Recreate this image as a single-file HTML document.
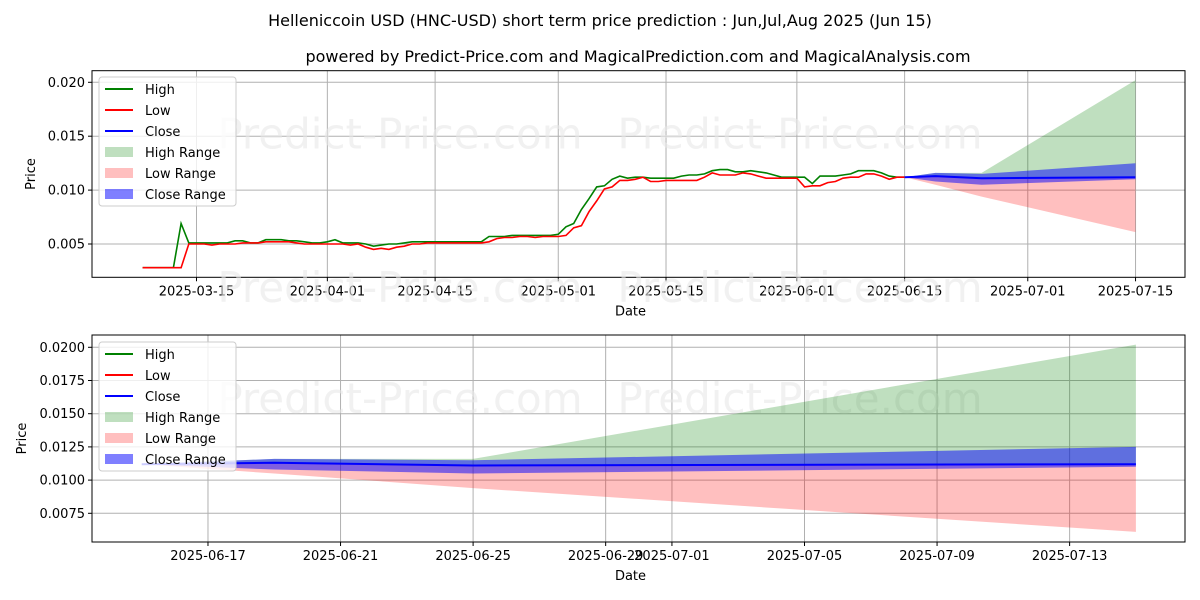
<!DOCTYPE html>
<html><head><meta charset="utf-8">
<style>
html,body{margin:0;padding:0;background:#fff;}
svg{display:block;font-family:"DejaVu Sans","Liberation Sans",sans-serif;}
</style></head>
<body>
<svg id="chart" width="1200" height="600" viewBox="0 0 1200 600" xmlns="http://www.w3.org/2000/svg">
<rect x="0" y="0" width="1200" height="600" fill="#fff"/>
<text x="600" y="26" text-anchor="middle" font-size="16" fill="#000">Helleniccoin USD (HNC-USD) short term price prediction : Jun,Jul,Aug 2025 (Jun 15)</text>
<text x="638" y="62" text-anchor="middle" font-size="16" fill="#000">powered by Predict-Price.com and MagicalPrediction.com and MagicalAnalysis.com</text>
<g id="top"></g>
<g id="bot"></g>
</svg>
<script>
// ---- data (day index 0 = 2025-03-08) ----
const histHigh = [0.0028,0.0028,0.0028,0.0028,0.0028,0.0069,0.0051,0.0051,0.0051,0.0051,0.0051,0.0051,0.0053,0.0053,0.0051,0.0051,0.0054,0.0054,0.0054,0.0053,0.0053,0.0052,0.0051,0.0051,0.0052,0.0054,0.0051,0.0051,0.0051,0.0050,0.0048,0.0049,0.0050,0.0050,0.0051,0.0052,0.0052,0.0052,0.0052,0.0052,0.0052,0.0052,0.0052,0.0052,0.0052,0.0057,0.0057,0.0057,0.0058,0.0058,0.0058,0.0058,0.0058,0.0058,0.0059,0.0066,0.0069,0.0082,0.0092,0.0103,0.0104,0.0110,0.0113,0.0111,0.0112,0.0112,0.0111,0.0111,0.0111,0.0111,0.0113,0.0114,0.0114,0.0115,0.0118,0.0119,0.0119,0.0117,0.0117,0.0118,0.0117,0.0116,0.0114,0.0112,0.0112,0.0112,0.0112,0.0106,0.0113,0.0113,0.0113,0.0114,0.0115,0.0118,0.0118,0.0118,0.0116,0.0113,0.0112,0.0112];
const histLow = [0.0028,0.0028,0.0028,0.0028,0.0028,0.0028,0.0050,0.0050,0.0050,0.0049,0.0050,0.0050,0.0050,0.0051,0.0051,0.0051,0.0052,0.0052,0.0052,0.0052,0.0051,0.0050,0.0050,0.0050,0.0050,0.0050,0.0050,0.0049,0.0050,0.0047,0.0045,0.0046,0.0045,0.0047,0.0048,0.0050,0.0050,0.0051,0.0051,0.0051,0.0051,0.0051,0.0051,0.0051,0.0051,0.0052,0.0055,0.0056,0.0056,0.0057,0.0057,0.0056,0.0057,0.0057,0.0057,0.0058,0.0065,0.0067,0.0080,0.0090,0.0101,0.0103,0.0109,0.0109,0.0110,0.0112,0.0108,0.0108,0.0109,0.0109,0.0109,0.0109,0.0109,0.0112,0.0116,0.0114,0.0114,0.0114,0.0116,0.0115,0.0113,0.0111,0.0111,0.0111,0.0111,0.0111,0.0103,0.0104,0.0104,0.0107,0.0108,0.0111,0.0112,0.0112,0.0115,0.0115,0.0113,0.0110,0.0112,0.0112];
const fcDays = [99,103,109,129];
const fcClose = [0.0112,0.0113,0.0111,0.0112];
const fcHighUpper = [0.0112,0.0116,0.0116,0.0202];
const fcLowLower = [0.0112,0.0105,0.0094,0.0061];
const fcCloseUpper = [0.0112,0.0116,0.0115,0.0125];
const fcCloseLower = [0.0112,0.0108,0.0105,0.0110];
const topTickDays = [7,24,38,54,68,85,99,115,129];
const topTickLabels = ["2025-03-15","2025-04-01","2025-04-15","2025-05-01","2025-05-15","2025-06-01","2025-06-15","2025-07-01","2025-07-15"];
const topYTicks = [0.005,0.010,0.015,0.020];
const topYLabels = ["0.005","0.010","0.015","0.020"];
const botTickDays = [101,105,109,113,115,119,123,127];
const botTickLabels = ["2025-06-17","2025-06-21","2025-06-25","2025-06-29","2025-07-01","2025-07-05","2025-07-09","2025-07-13"];
const botYTicks = [0.0075,0.0100,0.0125,0.0150,0.0175,0.0200];
const botYLabels = ["0.0075","0.0100","0.0125","0.0150","0.0175","0.0200"];

const NS="http://www.w3.org/2000/svg";
function mk(parent,tag,attrs,text){const e=document.createElementNS(NS,tag);for(const k in attrs)e.setAttribute(k,attrs[k]);if(text!==undefined)e.textContent=text;parent.appendChild(e);return e;}

const panels=[
 {g:document.getElementById('top'),L:92,R:1185,T:70.7,B:277.3,
  x:d=>196.5+(d-7)*7.697, y:v=>244-(v-0.005)/0.005*53.9,
  xt:topTickDays,xl:topTickLabels,yt:topYTicks,yl:topYLabels,hist:true,legY:77},
 {g:document.getElementById('bot'),L:92,R:1185,T:335,B:542,
  x:d=>141.7+(d-99)*33.14, y:v=>513.3-(v-0.0075)/0.0025*33.2,
  xt:botTickDays,xl:botTickLabels,yt:botYTicks,yl:botYLabels,hist:false,legY:342}
];

function band(p,up,lo){
  let s='';
  fcDays.forEach((d,i)=>{s+=(i?'L':'M')+p.x(d).toFixed(1)+','+p.y(up[i]).toFixed(1);});
  for(let i=fcDays.length-1;i>=0;i--)s+='L'+p.x(fcDays[i]).toFixed(1)+','+p.y(lo[i]).toFixed(1);
  return s+'Z';
}
function line(p,days,vals){return vals.map((v,i)=>(i?'L':'M')+p.x(days[i]).toFixed(1)+','+p.y(v).toFixed(1)).join('');}

panels.forEach((p,pi)=>{
  const g=p.g;
  const cid='clip'+pi;
  const cp=mk(g,'clipPath',{id:cid});
  mk(cp,'rect',{x:p.L,y:p.T,width:p.R-p.L,height:p.B-p.T});
  // grid
  p.xt.forEach((d,i)=>{
    const gl=mk(g,'line',{x1:p.x(d),x2:p.x(d),y1:p.T,y2:p.B,stroke:'#b0b0b0','stroke-width':1});
    
    
  });
  p.yt.forEach((v,i)=>{
    const gl=mk(g,'line',{x1:p.L,x2:p.R,y1:p.y(v),y2:p.y(v),stroke:'#b0b0b0','stroke-width':1});
    
    
  });
  // watermarks
  const wm=[[400,p.T+78],[800,p.T+78]];
  wm.forEach(w=>{
    const t=mk(g,'text',{x:w[0],y:w[1],'text-anchor':'middle','font-size':42,fill:'#e8e8e8','fill-opacity':0.6},'Predict-Price.com');
    
    
  });
  const data=mk(g,'g',{'clip-path':'url(#'+cid+')'});
  const hr=mk(data,'path',{d:band(p,fcHighUpper,fcClose),fill:'#008000','fill-opacity':0.25,stroke:'none'});
  
  
  const lr=mk(data,'path',{d:band(p,fcClose,fcLowLower),fill:'#ff0000','fill-opacity':0.25,stroke:'none'});
  
  
  const cr=mk(data,'path',{d:band(p,fcCloseUpper,fcCloseLower),fill:'#0000ff','fill-opacity':0.5,stroke:'none'});
  
  
  if(p.hist){
    const days=histHigh.map((_,i)=>i);
    const hl=mk(data,'path',{d:line(p,days,histHigh),fill:'none',stroke:'#008000','stroke-width':1.6});
    
    
    const ll=mk(data,'path',{d:line(p,days,histLow),fill:'none',stroke:'#ff0000','stroke-width':1.6});
    
    
  }
  const cl=mk(data,'path',{d:line(p,fcDays,fcClose),fill:'none',stroke:'#0000ff','stroke-width':2});
  
  
  // frame
  const fr=mk(g,'rect',{x:p.L,y:p.T,width:p.R-p.L,height:p.B-p.T,fill:'none',stroke:'#000','stroke-width':1});
  
  
  // ticks
  p.xt.forEach((d,i)=>{
    const X=p.x(d);
    mk(g,'line',{x1:X,x2:X,y1:p.B,y2:p.B+4,stroke:'#000'});
    const t=mk(g,'text',{x:X,y:p.B+18,'text-anchor':'middle','font-size':13,fill:'#000'},p.xl[i]);
    
    
  });
  p.yt.forEach((v,i)=>{
    const Y=p.y(v);
    mk(g,'line',{x1:p.L-4,x2:p.L,y1:Y,y2:Y,stroke:'#000'});
    const t=mk(g,'text',{x:p.L-7,y:Y+4.5,'text-anchor':'end','font-size':13,fill:'#000'},p.yl[i]);
    
    
  });
  const xa=mk(g,'text',{x:(p.L+p.R)/2-8,y:p.B+38,'text-anchor':'middle','font-size':13,fill:'#000'},'Date');
  
  
  const yx=pi===0?35:26, yy=(p.T+p.B)/2;
  const ya=mk(g,'text',{x:yx,y:yy,'text-anchor':'middle','font-size':13,fill:'#000',transform:'rotate(-90 '+yx+' '+yy+')'},'Price');
  
  
  // legend
  const lg=mk(g,'g',{});
  
  
  const LY=p.legY;
  mk(lg,'rect',{x:99,y:LY,width:137,height:129,rx:3,fill:'#fff','fill-opacity':0.8,stroke:'#cccccc'});
  const entries=[['High','line','#008000',1],['Low','line','#ff0000',1],['Close','line','#0000ff',1],['High Range','patch','#008000',0.25],['Low Range','patch','#ff0000',0.25],['Close Range','patch','#0000ff',0.5]];
  entries.forEach((e,i)=>{
    const cy=LY+12+i*21;
    const eg=mk(lg,'g',{});
    
    
    if(e[1]==='line') mk(eg,'line',{x1:105,x2:133,y1:cy,y2:cy,stroke:e[2],'stroke-width':2});
    else mk(eg,'rect',{x:105,y:cy-5,width:28,height:10,fill:e[2],'fill-opacity':e[3]});
    mk(eg,'text',{x:145,y:cy+5,'font-size':13,fill:'#000'},e[0]);
  });
});
// lower watermark row spanning between panels
[[400,302],[800,302]].forEach(w=>{
  const t=mk(document.getElementById('chart'),'text',{x:w[0],y:w[1],'text-anchor':'middle','font-size':42,fill:'#e8e8e8','fill-opacity':0.6},'Predict-Price.com');
  
  
});
</script>
</body></html>
